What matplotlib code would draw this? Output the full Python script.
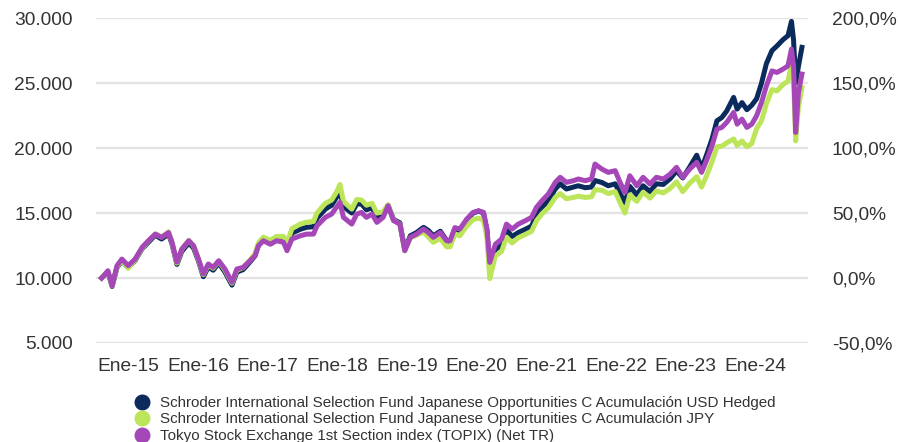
import matplotlib
matplotlib.use("Agg")
from matplotlib import pyplot as plt
from matplotlib.lines import Line2D

plt.rcParams['font.family'] = ['Liberation Sans', 'DejaVu Sans']

# fecha en años decimales
years = [2014.62, 2014.71, 2014.77, 2014.84, 2014.91, 2015.00, 2015.10, 2015.20, 2015.29, 2015.39,
         2015.48, 2015.58, 2015.63, 2015.70, 2015.77, 2015.87, 2015.94, 2016.01, 2016.08, 2016.15,
         2016.22, 2016.30, 2016.39, 2016.49, 2016.56, 2016.65, 2016.75, 2016.82, 2016.87, 2016.94,
         2017.04, 2017.13, 2017.23, 2017.28, 2017.35, 2017.47, 2017.56, 2017.66, 2017.71, 2017.83,
         2017.92, 2017.99, 2018.04, 2018.09, 2018.21, 2018.28, 2018.35, 2018.42, 2018.50, 2018.57,
         2018.66, 2018.73, 2018.81, 2018.90, 2018.97, 2019.05, 2019.14, 2019.24, 2019.31, 2019.38,
         2019.48, 2019.57, 2019.62, 2019.69, 2019.76, 2019.86, 2019.95, 2020.03, 2020.10, 2020.15,
         2020.19, 2020.27, 2020.36, 2020.43, 2020.51, 2020.60, 2020.70, 2020.79, 2020.86, 2020.94,
         2021.03, 2021.13, 2021.20, 2021.29, 2021.39, 2021.46, 2021.56, 2021.65, 2021.70, 2021.80,
         2021.89, 2021.99, 2022.06, 2022.13, 2022.20, 2022.30, 2022.39, 2022.49, 2022.58, 2022.68,
         2022.78, 2022.87, 2022.96, 2023.06, 2023.16, 2023.23, 2023.30, 2023.38, 2023.45, 2023.52,
         2023.59, 2023.69, 2023.74, 2023.81, 2023.88, 2023.95, 2024.02, 2024.09, 2024.16, 2024.24,
         2024.31, 2024.40, 2024.47, 2024.52, 2024.55, 2024.58, 2024.62, 2024.67]

usd_hedged = [10000, 10450, 9350, 10800, 11300, 10800, 11350, 12250, 12750, 13300,
              13000, 13400, 12600, 11050, 12050, 12700, 12300, 11300, 10100, 10850,
              10600, 11150, 10450, 9450, 10450, 10650, 11250, 11700, 12550, 12950,
              12700, 13050, 13000, 12450, 13450, 13750, 13900, 13950, 14600, 15300,
              15600, 16200, 16700, 15500, 15000, 15700, 15700, 15250, 15400, 14700,
              14900, 15600, 14500, 14250, 12200, 13250, 13500, 13900, 13650, 13250,
              13600, 12900, 12800, 13800, 13650, 14450, 15000, 15150, 15000, 13600,
              10600, 12200, 12500, 13700, 13200, 13500, 13750, 14000, 14900, 15450,
              15950, 16850, 17250, 16850, 17000, 17100, 16950, 17000, 17500, 17350,
              17100, 17250, 16500, 15800, 17050, 16400, 17100, 16650, 17250, 17200,
              17650, 18250, 17700, 18550, 19450, 18450, 19450, 20700, 22100, 22350,
              22850, 23900, 23000, 23500, 22950, 23300, 23800, 25000, 26500, 27500,
              27850, 28350, 28650, 29750, 28300, 25000, 26300, 27750]

jpy = [10000, 10500, 9400, 10850, 11350, 10750, 11400, 12300, 12850, 13400,
       13150, 13550, 12700, 11150, 12200, 12900, 12450, 11400, 10250, 11000,
       10750, 11300, 10600, 9600, 10600, 10800, 11400, 11850, 12700, 13150,
       12900, 13200, 13200, 12650, 13800, 14150, 14300, 14350, 15000, 15750,
       16000, 16600, 17200, 15900, 15300, 16050, 16000, 15600, 15750, 15000,
       15100, 15650, 14450, 14150, 12100, 13100, 13300, 13550, 13150, 12750,
       13050, 12400, 12400, 13400, 13250, 14000, 14500, 14600, 14450, 13100,
       9950, 11700, 12050, 13150, 12700, 13100, 13350, 13600, 14400, 14950,
       15400, 16200, 16500, 16100, 16200, 16300, 16200, 16250, 16800, 16750,
       16500, 16650, 15800, 15000, 16400, 15900, 16600, 16150, 16700, 16550,
       16900, 17400, 16650, 17300, 17800, 17000, 17850, 18950, 20100, 20150,
       20400, 20700, 20200, 20550, 20100, 20350, 21500, 22100, 23400, 24500,
       24400, 24900, 25150, 26450, 25200, 20550, 23200, 24650]

topix = [10000, 10560, 9410, 10950, 11460, 10950, 11460, 12360, 12870, 13380,
         13130, 13500, 12750, 11230, 12230, 12870, 12480, 11460, 10310, 11080,
         10820, 11330, 10690, 9670, 10690, 10820, 11330, 11720, 12480, 12870,
         12600, 12870, 12750, 12100, 13000, 13250, 13380, 13380, 14020, 14670,
         14920, 15440, 15820, 14670, 14150, 14920, 15050, 14670, 14920, 14280,
         14670, 15560, 14410, 14150, 12100, 13130, 13380, 13770, 13500, 13130,
         13500, 12870, 12870, 13880, 13770, 14540, 15050, 15180, 15050, 13770,
         11200, 12600, 13000, 14150, 13770, 14150, 14410, 14670, 15440, 15950,
         16460, 17360, 17750, 17360, 17490, 17620, 17490, 17620, 18770, 18380,
         18130, 18260, 17360, 16590, 17870, 17100, 17750, 17230, 17750, 17620,
         18000, 18520, 17750, 18380, 18900, 18130, 19030, 20180, 21460, 21590,
         21970, 22740, 21840, 22230, 21590, 21840, 22490, 23510, 24790, 25940,
         25820, 26080, 26330, 27620, 26330, 21200, 24280, 25690]

tick_years = [2015, 2016, 2017, 2018, 2019, 2020, 2021, 2022, 2023, 2024]
tick_labels = ["Ene-15", "Ene-16", "Ene-17", "Ene-18", "Ene-19",
               "Ene-20", "Ene-21", "Ene-22", "Ene-23", "Ene-24"]
left_ticks = [5000, 10000, 15000, 20000, 25000, 30000]

names = ["Schroder International Selection Fund Japanese Opportunities C Acumulación USD Hedged",
         "Schroder International Selection Fund Japanese Opportunities C Acumulación JPY",
         "Tokyo Stock Exchange 1st Section index (TOPIX) (Net TR)"]
colors = ["#0b2b5c", "#bce55a", "#a647b9"]

fig = plt.figure(figsize=(8.98, 4.42), dpi=100)
ax = fig.add_axes([0.107, 0.224, 0.793, 0.735])

for serie, c in zip([usd_hedged, jpy, topix], colors):
    ax.plot(years, serie, color=c, lw=3.6, solid_joinstyle='round', zorder=3)

ax.set_xlim(2014.54, 2024.76)
ax.set_ylim(5000, 30000)
ax.set_yticks(left_ticks)
ax.set_yticklabels([f"{v:,}".replace(",", ".") for v in left_ticks])
ax.set_xticks(tick_years)
ax.set_xticklabels(tick_labels)
ax.grid(axis='y', color='#e3e3e3', lw=1.6, zorder=0)
for s in ax.spines.values():
    s.set_visible(False)
ax.tick_params(axis='y', length=0, pad=17, labelsize=13.8, labelcolor='#333333')
ax.tick_params(axis='x', length=0, pad=11, labelsize=13.8, labelcolor='#333333')

ax2 = ax.twinx()
ax2.set_ylim(-50, 200)
pct = [-50, 0, 50, 100, 150, 200]
ax2.set_yticks(pct)
ax2.set_yticklabels([f"{p:.1f}%".replace(".", ",") for p in pct])
for s in ax2.spines.values():
    s.set_visible(False)
ax2.tick_params(axis='y', length=0, pad=17, labelsize=13.8, labelcolor='#333333')

handles = [Line2D([], [], marker='o', ls='', color=c, markersize=10.5) for c in colors]
fig.legend(handles, names, loc='upper left', bbox_to_anchor=(0.1495, 0.104),
           frameon=False, fontsize=10.9, labelspacing=0.16, handletextpad=0.7,
           handlelength=1.0, borderaxespad=0, borderpad=0, labelcolor='#333333')

fig.savefig("out.png", dpi=100)
